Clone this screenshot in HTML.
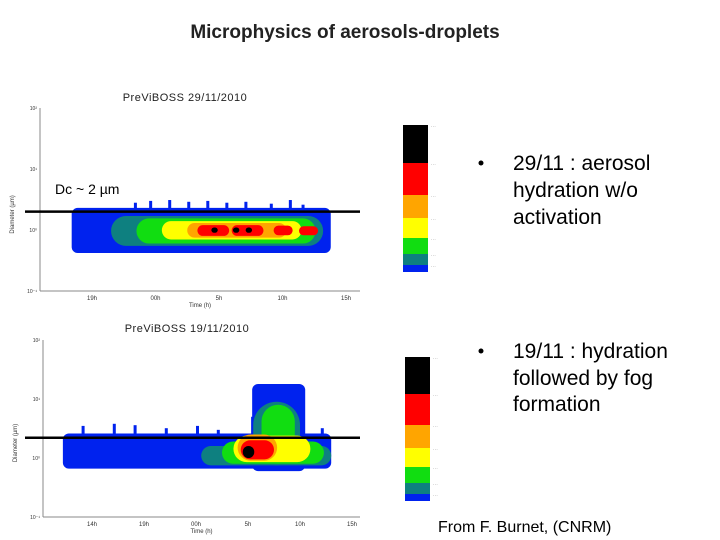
<!DOCTYPE html>
<html><head><meta charset="utf-8"><style>
body{margin:0;background:#fff;width:720px;height:540px;overflow:hidden;font-family:"Liberation Sans",sans-serif}
svg{position:absolute;left:0;top:0}
</style></head><body>
<svg id="s" width="720" height="540">
<text x="345" y="38" text-anchor="middle" font-size="19" font-weight="bold" fill="#222">Microphysics of aerosols-droplets</text>
<g id="c1"></g>
<g id="c2"></g>
<g>
<circle cx="481" cy="163" r="2.5" fill="#000"/>
<text font-size="21" fill="#000"><tspan x="513" y="170">29/11 : aerosol</tspan><tspan x="513" y="197">hydration w/o</tspan><tspan x="513" y="224">activation</tspan></text></g>
<g>
<circle cx="481" cy="351" r="2.5" fill="#000"/>
<text font-size="21" fill="#000"><tspan x="513" y="358">19/11 : hydration</tspan><tspan x="513" y="385">followed by fog</tspan><tspan x="513" y="411">formation</tspan></text></g>
<text x="438" y="532" font-size="16" fill="#000">From F. Burnet, (CNRM)</text>
</svg>
<script>
const NS="http://www.w3.org/2000/svg";
const colors=["#0022ee","#0e8080","#11dd11","#ffff00","#ffa500","#ff0000","#000000"];
// chart 1 layers: [level, startHour, endHour, minDiam, maxDiam]
const c1Layers=[[0,17.4,37.8,0.42,2.3],[1,20.5,37.2,0.55,1.7],[2,22.5,36.6,0.6,1.55],[3,24.5,35.5,0.7,1.4],[4,26.5,34.3,0.75,1.3],[5,27.3,29.8,0.8,1.2],[5,30,32.5,0.8,1.2],[5,33.3,34.8,0.82,1.18],[5,35.3,36.8,0.82,1.15],[6,28.4,28.9,0.9,1.1],[6,30.1,30.6,0.9,1.1],[6,31.1,31.6,0.9,1.1]];
// chart 1 jagged blue spikes: [hour, topDiam]
const c1Spikes=[[22.3,2.8],[23.5,3.0],[25,3.1],[26.5,2.9],[28,3.0],[29.5,2.8],[31,2.9],[33,2.7],[34.5,3.1],[35.5,2.6]];
const c2Layers=[[0,11.2,37,0.66,2.6],[0,29.4,34.5,0.6,18],[1,24.5,37,0.75,1.6],[1,29.5,34,0.75,9],[2,26.5,36.3,0.8,1.9],[2,30.3,33.5,0.8,8],[3,27.6,35,0.85,2.4],[4,28,31.8,0.9,2.5],[5,28.3,31.5,0.95,2.0],[6,28.5,29.6,1.0,1.6]];
const c2Spikes=[[13,3.5],[16,3.8],[18,3.6],[21,3.2],[24,3.5],[26,3.0],[29.3,5],[36,3.2]];
const c1Ticks=["19h","00h","5h","10h","15h"], c1TickH=[19,24,29,34,39];
const c2Ticks=["14h","19h","00h","5h","10h","15h"], c2TickH=[14,19,24,29,34,39];
const yExp=["10\u207b\u00b9","10\u2070","10\u00b9","10\u00b2"];
function el(p,t,a){const e=document.createElementNS(NS,t);for(const k in a)e.setAttribute(k,a[k]);p.appendChild(e);return e;}
function chart(g,cfg){
 const X=h=>cfg.x0+(h-cfg.h0)*cfg.pxh, Y=d=>cfg.yb-(Math.log10(d)+1)*cfg.pxd;
 let t=el(g,"text",{x:cfg.tx,y:cfg.ty,"font-size":11,"text-anchor":"middle",fill:"#222","letter-spacing":"0.5"});t.textContent=cfg.title;
 
 
 el(g,"line",{x1:cfg.ax,y1:Y(100),x2:cfg.ax,y2:cfg.yb,stroke:"#888"});
 el(g,"line",{x1:cfg.ax,y1:cfg.yb,x2:cfg.xr,y2:cfg.yb,stroke:"#888"});
 for(let i=0;i<4;i++){const tt=el(g,"text",{x:cfg.ax-3,y:Y(Math.pow(10,i-1))+2,"font-size":5,"text-anchor":"end",fill:"#333"});tt.textContent=yExp[i];
  
  }
 cfg.tickH.forEach((h,i)=>{const tt=el(g,"text",{x:X(h),y:cfg.yb+9,"font-size":6,"text-anchor":"middle",fill:"#333"});tt.textContent=cfg.ticks[i];
  
  });
 const xl=el(g,"text",{x:(cfg.ax+cfg.xr)/2,y:cfg.yb+16,"font-size":6,"text-anchor":"middle",fill:"#333"});xl.textContent="Time (h)";
 
 
 const yl=el(g,"text",{x:0,y:0,"font-size":6,"text-anchor":"middle",fill:"#333",transform:`translate(${cfg.ax-26},${Y(1.8)}) rotate(-90)`});yl.textContent="Diameter (\u00b5m)";
 
 
 cfg.spikes.forEach(s=>{const r=el(g,"rect",{x:X(s[0]),y:Y(s[1]),width:3,height:Y(1.5)-Y(s[1]),fill:colors[0]});
  
  });
 cfg.layers.forEach(l=>{const x=X(l[1]),w=X(l[2])-x,y=Y(l[4]),h=Y(l[3])-y;
  const r=el(g,"rect",{x:x,y:y,width:w,height:h,rx:Math.min(w/2,l[0]?h/2:6),fill:colors[l[0]]});
  
  });
 const ln=el(g,"line",{x1:cfg.lx1,y1:Y(cfg.dc),x2:cfg.lx2,y2:Y(cfg.dc),stroke:"#000","stroke-width":2.5});
 
 
 const segs=cfg.cb;let cy=cfg.cbTop;
 [6,5,4,3,2,1,0].forEach((c,i)=>{const r=el(g,"rect",{x:cfg.cbx,y:cy,width:25,height:segs[i],fill:colors[c]});
  
  
  el(g,"text",{x:cfg.cbx+28,y:cy+2,"font-size":3,fill:"#555"}).textContent="- - -";cy+=segs[i];});
}
chart(document.getElementById("c1"),{title:"PreViBOSS 29/11/2010",tx:185,ty:101,ax:40,xr:360,yb:291,pxd:61,x0:92,h0:19,pxh:12.7,
 layers:c1Layers,spikes:c1Spikes,ticks:c1Ticks,tickH:c1TickH,dc:2,lx1:25,lx2:360,cbx:403,cbTop:125,cb:[38,32,23,20,16,11,7]});
chart(document.getElementById("c2"),{title:"PreViBOSS 19/11/2010",tx:187,ty:332,ax:43,xr:360,yb:517,pxd:59,x0:196,h0:24,pxh:10.4,
 layers:c2Layers,spikes:c2Spikes,ticks:c2Ticks,tickH:c2TickH,dc:2.2,lx1:25,lx2:360,cbx:405,cbTop:357,cb:[37,31,23,19,16,11,7]});
const dc=el(document.getElementById("c1"),"text",{x:55,y:194,"font-size":14,fill:"#000"});dc.textContent="Dc ~ 2 \u00b5m";


</script>
</body></html>
